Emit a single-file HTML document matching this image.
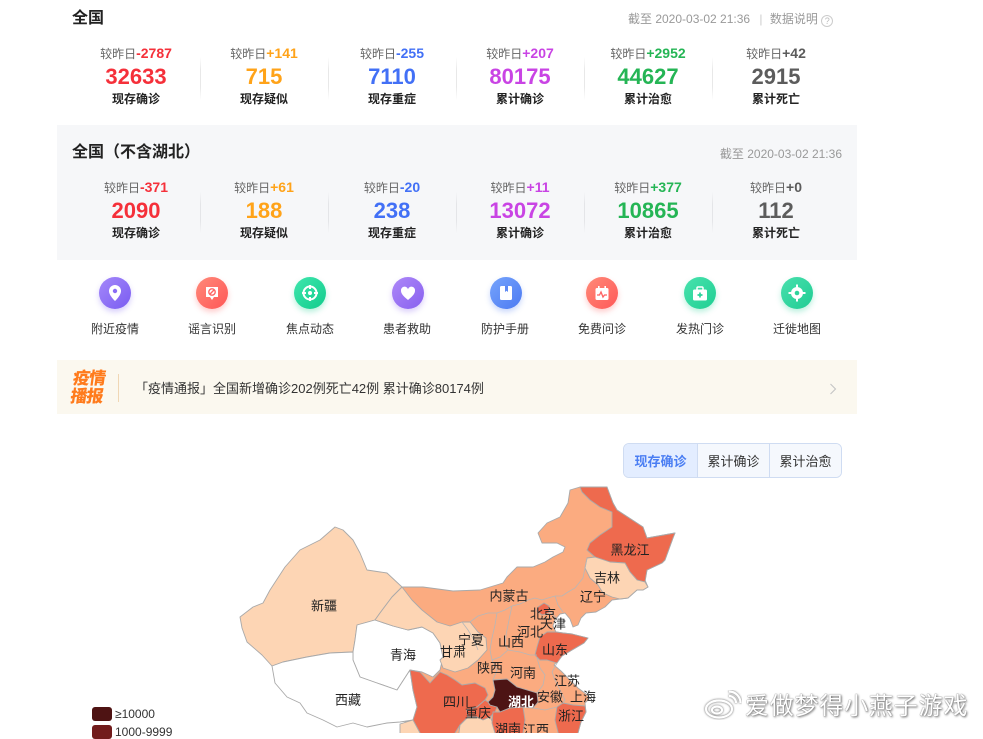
<!DOCTYPE html>
<html><head><meta charset="utf-8">
<style>
*{margin:0;padding:0;box-sizing:border-box}
body{width:983px;height:733px;overflow:hidden;background:#fff;position:relative;font-family:"Liberation Sans","Noto Sans CJK SC",sans-serif;color:#222}
.abs{position:absolute}
.title{position:absolute;left:72px;font-size:16px;font-weight:bold;color:#222;line-height:20px;white-space:nowrap}
.time{position:absolute;font-size:12px;color:#999;line-height:16px;white-space:nowrap}
.row{position:absolute;left:72px;width:768px;display:flex}
.col{width:128px;text-align:center;position:relative}
.diff{font-size:12px;color:#666;line-height:16px;height:16px;white-space:nowrap}
.diff b{font-size:14px;font-weight:bold}
.num{font-size:22px;font-weight:bold;line-height:26px;margin-top:3px;height:26px}
.lab{font-size:12px;font-weight:bold;color:#222;line-height:16px;margin-top:1px}
.sep{position:absolute;left:0;top:12px;width:1px;height:43px;background:linear-gradient(#fff,#e8e8e8 30%,#e8e8e8 70%,#fff)}
.sec2 .sep{background:linear-gradient(#f7f8fa,#e4e5e8 30%,#e4e5e8 70%,#f7f8fa)}
.c1{color:#f5303a}.c2{color:#ffa319}.c3{color:#4270f6}.c4{color:#c944e4}.c5{color:#25b555}.c6{color:#5c5c5c}
.ic{position:absolute;top:277px;width:32px;height:32px;border-radius:50%;display:flex;align-items:center;justify-content:center}
.il{position:absolute;top:321px;width:80px;text-align:center;font-size:12px;color:#333;line-height:16px}
.tab{height:100%;display:flex;align-items:center;justify-content:center;font-size:13px;color:#333}
.leg{position:absolute;left:92px;width:20px;height:14px;border-radius:3px}
.legt{position:absolute;left:115px;font-size:12px;color:#333;line-height:14px}
</style></head><body>

<!-- Section 1 -->
<div class="title" style="top:9px">全国</div>
<div class="time" style="top:11px;left:628px">截至 2020-03-02 21:36 <span style="color:#ccc;margin:0 4px 0 6px">|</span> 数据说明 <span style="display:inline-block;width:12px;height:12px;border:1px solid #ccc;border-radius:50%;font-size:9px;line-height:10px;text-align:center;color:#bbb;vertical-align:-1px">?</span></div>

<div class="row" style="top:45px">
  <div class="col"><div class="diff">较昨日<b class="c1">-2787</b></div><div class="num c1">32633</div><div class="lab">现存确诊</div></div>
  <div class="col"><div class="sep"></div><div class="diff">较昨日<b class="c2">+141</b></div><div class="num c2">715</div><div class="lab">现存疑似</div></div>
  <div class="col"><div class="sep"></div><div class="diff">较昨日<b class="c3">-255</b></div><div class="num c3">7110</div><div class="lab">现存重症</div></div>
  <div class="col"><div class="sep"></div><div class="diff">较昨日<b class="c4">+207</b></div><div class="num c4">80175</div><div class="lab">累计确诊</div></div>
  <div class="col"><div class="sep"></div><div class="diff">较昨日<b class="c5">+2952</b></div><div class="num c5">44627</div><div class="lab">累计治愈</div></div>
  <div class="col"><div class="sep"></div><div class="diff">较昨日<b class="c6">+42</b></div><div class="num c6">2915</div><div class="lab">累计死亡</div></div>
</div>

<!-- Section 2 -->
<div class="abs" style="left:57px;top:125px;width:800px;height:135px;background:#f6f7f9"></div>
<div class="title" style="top:143px">全国（不含湖北）</div>
<div class="time" style="top:146px;right:141px">截至 2020-03-02 21:36</div>
<div class="row sec2" style="top:179px">
  <div class="col"><div class="diff">较昨日<b class="c1">-371</b></div><div class="num c1">2090</div><div class="lab">现存确诊</div></div>
  <div class="col"><div class="sep"></div><div class="diff">较昨日<b class="c2">+61</b></div><div class="num c2">188</div><div class="lab">现存疑似</div></div>
  <div class="col"><div class="sep"></div><div class="diff">较昨日<b class="c3">-20</b></div><div class="num c3">238</div><div class="lab">现存重症</div></div>
  <div class="col"><div class="sep"></div><div class="diff">较昨日<b class="c4">+11</b></div><div class="num c4">13072</div><div class="lab">累计确诊</div></div>
  <div class="col"><div class="sep"></div><div class="diff">较昨日<b class="c5">+377</b></div><div class="num c5">10865</div><div class="lab">累计治愈</div></div>
  <div class="col"><div class="sep"></div><div class="diff">较昨日<b class="c6">+0</b></div><div class="num c6">112</div><div class="lab">累计死亡</div></div>
</div>

<!-- Icons -->
<div class="ic" style="left:99px;background:linear-gradient(135deg,#a488fa,#7a5cf1);box-shadow:0 3px 6px rgba(122,92,241,.3)">
 <svg width="16" height="18" viewBox="0 0 16 18"><path d="M8,1 a6,6 0 0 1 6,6 c0,4.5 -6,10 -6,10 c0,0 -6,-5.5 -6,-10 a6,6 0 0 1 6,-6z" fill="#fff"/><circle cx="8" cy="7" r="2.2" fill="#8a6cf5"/></svg></div>
<div class="il" style="left:75px">附近疫情</div>

<div class="ic" style="left:196px;background:linear-gradient(135deg,#ff8a7a,#ff5656);box-shadow:0 3px 6px rgba(255,86,86,.3)">
 <svg width="16" height="16" viewBox="0 0 16 16"><path d="M2,2 h12 v10 h-4 l-2,3 l-2,-3 h-4z" fill="#fff"/><circle cx="8" cy="7" r="3.2" fill="none" stroke="#ff6464" stroke-width="1.4"/><line x1="5.8" y1="9.2" x2="10.2" y2="4.8" stroke="#ff6464" stroke-width="1.4"/></svg></div>
<div class="il" style="left:172px">谣言识别</div>

<div class="ic" style="left:294px;background:linear-gradient(135deg,#3fe6ad,#11cc8c);box-shadow:0 3px 6px rgba(17,204,140,.3)">
 <svg width="18" height="18" viewBox="0 0 18 18"><circle cx="9" cy="9" r="6.5" fill="none" stroke="#fff" stroke-width="2"/><circle cx="9" cy="9" r="2" fill="#fff"/><path d="M9,1 v4 M9,13 v4 M1,9 h4 M13,9 h4" stroke="#fff" stroke-width="2"/></svg></div>
<div class="il" style="left:270px">焦点动态</div>

<div class="ic" style="left:392px;background:linear-gradient(135deg,#ad88f8,#8860ef);box-shadow:0 3px 6px rgba(136,96,239,.3)">
 <svg width="16" height="15" viewBox="0 0 16 15"><path d="M8,14 C3,10 1,7.5 1,4.8 A3.6,3.6 0 0 1 8,3.2 A3.6,3.6 0 0 1 15,4.8 C15,7.5 13,10 8,14z" fill="#fff"/></svg></div>
<div class="il" style="left:367px">患者救助</div>

<div class="ic" style="left:490px;background:linear-gradient(135deg,#76a4fc,#4c7af2);box-shadow:0 3px 6px rgba(76,122,242,.3)">
 <svg width="14" height="16" viewBox="0 0 14 16"><rect x="1" y="1" width="12" height="14" rx="1.5" fill="#fff"/><path d="M6,1 v6 l1.5,-1.2 l1.5,1.2 v-6" fill="#5d8af5"/></svg></div>
<div class="il" style="left:465px">防护手册</div>

<div class="ic" style="left:586px;background:linear-gradient(135deg,#ff8a78,#ff5858);box-shadow:0 3px 6px rgba(255,88,88,.3)">
 <svg width="16" height="16" viewBox="0 0 16 16"><rect x="1.5" y="3" width="13" height="12" rx="1.5" fill="#fff"/><rect x="4" y="1" width="1.6" height="4" fill="#fff"/><rect x="10.4" y="1" width="1.6" height="4" fill="#fff"/><path d="M3,10 h2.5 l1.5,-3 l2,5 l1.5,-2 h2.5" fill="none" stroke="#ff6262" stroke-width="1.3"/></svg></div>
<div class="il" style="left:562px">免费问诊</div>

<div class="ic" style="left:684px;background:linear-gradient(135deg,#48e2ad,#1fcf93);box-shadow:0 3px 6px rgba(31,207,147,.3)">
 <svg width="16" height="15" viewBox="0 0 16 15"><rect x="1" y="3.5" width="14" height="11" rx="1.5" fill="#fff"/><rect x="5" y="1" width="6" height="3.5" rx="1" fill="none" stroke="#fff" stroke-width="1.5"/><path d="M8,6.5 v5 M5.5,9 h5" stroke="#2bd39a" stroke-width="1.7"/></svg></div>
<div class="il" style="left:660px">发热门诊</div>

<div class="ic" style="left:781px;background:linear-gradient(135deg,#49e0ad,#1fcc93);box-shadow:0 3px 6px rgba(31,204,147,.3)">
 <svg width="18" height="18" viewBox="0 0 18 18"><circle cx="9" cy="9" r="6" fill="#fff"/><circle cx="9" cy="9" r="2.3" fill="#2fd39c"/><path d="M9,0.5 v3 M9,14.5 v3 M0.5,9 h3 M14.5,9 h3" stroke="#fff" stroke-width="2"/></svg></div>
<div class="il" style="left:757px">迁徙地图</div>

<!-- Banner -->
<div class="abs" style="left:57px;top:360px;width:800px;height:54px;background:#fbf8ef"></div>
<div class="abs" style="left:72px;top:368px;font-size:17px;font-weight:900;line-height:18px;color:#ff7b1c;transform:skewX(-8deg);letter-spacing:-1px;font-family:'Noto Sans CJK SC',sans-serif">疫情<br>播报</div>
<div class="abs" style="left:118px;top:374px;width:1px;height:28px;background:#f0d7b5"></div>
<div class="abs" style="left:135px;top:380px;font-size:13px;line-height:18px;color:#333;white-space:nowrap">「疫情通报」全国新增确诊202例死亡42例 累计确诊80174例</div>
<svg class="abs" style="left:829px;top:383px" width="8" height="12" viewBox="0 0 8 12"><path d="M1.5,1 L6.5,6 L1.5,11" fill="none" stroke="#c4c4c4" stroke-width="1.1"/></svg>

<!-- Tabs -->
<div class="abs" style="left:623px;top:443px;width:219px;height:35px;border:1px solid #cfdcf2;border-radius:6px;display:flex;overflow:hidden">
 <div class="tab" style="width:73px;background:#e3edff;color:#4a7ef3;font-weight:bold">现存确诊</div>
 <div class="tab" style="width:72px;background:#f5f8fd;border-left:1px solid #cfdcf2">累计确诊</div>
 <div class="tab" style="width:72px;background:#f5f8fd;border-left:1px solid #cfdcf2">累计治愈</div>
</div>

<!-- Map -->
<svg class="abs" style="left:0;top:0" width="983" height="733" viewBox="0 0 983 733">
<g stroke="#a9a9a9" stroke-width="0.9" stroke-linejoin="round">
 <path fill="#fbab80" d="M402,587 L423,587 L453,591 L480,590 L503,583 L507,577 L517,567 L533,567 L545,562 L553,557 L563,552 L565,547 L557,543 L542,543 L538,533 L547,523 L560,517 L568,503 L570,490 L580,487 L607,487 L613,503 L617,510 L643,527 L647,538 L675,533 L673,538 L665,560 L662,563 L647,570 L645,580 L648,587 L643,590 L637,590 L628,598 L620,599 L612,600 L605,607 L596,612 L586,613 L581,618 L578,625 L573,627 L570,619 L565,613 L560,614 L555,620 L553,626 L556,632 L563,633 L572,634 L580,636 L588,638 L584,643 L572,650 L562,656 L554,665 L561,671 L570,680 L578,688 L586,694 L590,698 L585,703 L586,712 L581,722 L578,733 L578,740 L405,740 L405,722 L413,720 L417,707 L413,690 L410,670 Z"/>
 <path fill="#fdd5b4" d="M240,617 L253,607 L263,603 L270,590 L285,567 L300,550 L320,540 L335,527 L343,530 L353,540 L360,553 L367,570 L387,573 L402,587 L392,597 L380,613 L375,620 L357,625 L355,640 L353,652 L330,653 L307,657 L283,662 L272,666 L262,655 L247,642 L242,628 Z"/>
 <path fill="#ffffff" d="M357,625 L375,620 L393,626 L408,630 L422,627 L433,633 L440,643 L443,657 L440,670 L433,677 L422,672 L410,670 L397,690 L377,683 L360,677 L353,660 L353,652 L355,640 Z"/>
 <path fill="#ffffff" d="M272,666 L283,662 L307,657 L330,653 L353,652 L353,660 L360,677 L377,683 L397,690 L410,670 L413,690 L417,707 L413,720 L400,722 L387,723 L367,727 L353,723 L337,727 L323,720 L307,713 L300,703 L287,697 L275,683 Z"/>
 <path fill="#fdd5b4" d="M402,587 L412,600 L422,610 L437,622 L450,626 L462,622 L470,622 L478,632 L486,638 L487,650 L478,660 L468,668 L455,672 L443,668 L440,660 L443,657 L440,643 L433,633 L422,627 L408,630 L393,626 L375,620 L380,613 L392,597 Z"/>
 <path fill="#ee6a4e" d="M410,670 L420,672 L430,683 L440,672 L447,675 L455,680 L462,685 L475,683 L485,688 L488,695 L485,700 L477,707 L467,710 L468,717 L460,725 L455,733 L455,740 L420,740 L420,733 L413,720 L417,707 L413,690 Z"/>
 <path fill="#ee6a4e" d="M485,700 L488,702 L490,705 L497,707 L495,712 L490,717 L483,720 L477,717 L468,717 L467,710 L477,707 Z"/>
 <path fill="#fdd5b4" d="M468,717 L477,717 L483,720 L490,717 L493,723 L497,740 L458,740 L460,725 Z"/>
 <path fill="#fdd5b4" d="M400,724 L413,720 L420,733 L420,740 L400,740 Z"/>
 <path fill="#4d1414" d="M493,680 L507,679 L517,687 L527,690 L537,693 L538,702 L533,708 L523,707 L510,708 L500,712 L497,707 L490,705 L488,702 L493,697 L495,690 Z"/>
 <path fill="#ee6a4e" d="M493,712 L500,712 L510,708 L523,707 L525,720 L523,733 L520,740 L497,740 L492,723 Z"/>
 <path fill="#ee6a4e" d="M557,707 L563,703 L573,705 L585,706 L586,712 L581,722 L578,733 L576,740 L560,740 L555,720 Z"/>
 <path fill="#ee6a4e" d="M580,487 L607,487 L613,503 L617,510 L643,527 L647,538 L675,533 L673,538 L665,560 L662,563 L647,570 L645,582 L637,580 L630,572 L625,563 L610,562 L595,557 L587,550 L590,543 L600,535 L612,527 L612,512 L600,507 L590,500 L582,492 Z"/>
 <path fill="#fdd5b4" d="M595,557 L610,562 L625,563 L630,572 L637,580 L645,582 L648,587 L643,590 L637,590 L628,598 L620,599 L612,597 L603,593 L598,585 L590,578 L585,568 L587,558 Z"/>
 <path fill="#ee6a4e" d="M538,607 L544,603 L549,606 L549,613 L542,615 L537,611 Z"/>
 <path fill="#ee6a4e" d="M537,647 L540,637 L547,632 L556,632 L563,633 L572,634 L580,636 L588,638 L584,643 L572,650 L562,656 L557,663 L547,660 L540,660 L535,655 Z"/>
</g>
<g fill="none" stroke="#b7b7b7" stroke-width="0.8">
 <path d="M470,622 L478,616 L488,613 L497,613 L505,610 L512,606 L520,604 L528,600 L535,598 L542,600 L548,598 L555,596 L562,596 L568,592 L575,588 L583,578 L585,568 L587,558"/>
 <path d="M555,596 L558,605 L563,612"/>
 <path d="M512,606 L510,615 L508,625 L506,635 L505,645 L508,650"/>
 <path d="M497,613 L495,625 L492,638 L490,650 L492,660"/>
 <path d="M492,660 L500,657 L508,650 L520,652 L530,655 L537,655"/>
 <path d="M492,660 L497,670 L493,680"/>
 <path d="M537,658 L540,668 L545,675 L543,685 L537,693"/>
 <path d="M557,663 L552,672 L555,680 L560,690 L565,700 L563,703"/>
 <path d="M533,708 L545,710 L557,707"/>
 <path d="M462,622 L468,630 L474,640 L478,650"/>
 <path d="M549,610 L556,618 L553,626"/>
</g>
<g font-family="Liberation Sans, Noto Sans CJK SC, sans-serif" font-size="13" fill="#222" text-anchor="middle" dominant-baseline="central">
 <text x="324" y="606">新疆</text>
 <text x="403" y="655">青海</text>
 <text x="348" y="700">西藏</text>
 <text x="453" y="652">甘肃</text>
 <text x="471" y="640">宁夏</text>
 <text x="509" y="596">内蒙古</text>
 <text x="543" y="614">北京</text>
 <text x="553" y="624">天津</text>
 <text x="530" y="632">河北</text>
 <text x="511" y="642">山西</text>
 <text x="555" y="650">山东</text>
 <text x="490" y="668">陕西</text>
 <text x="523" y="673">河南</text>
 <text x="567" y="681">江苏</text>
 <text x="550" y="697">安徽</text>
 <text x="583" y="697">上海</text>
 <text x="521" y="702" fill="#fff" font-weight="bold">湖北</text>
 <text x="456" y="702">四川</text>
 <text x="478" y="713">重庆</text>
 <text x="571" y="716">浙江</text>
 <text x="508" y="729">湖南</text>
 <text x="536" y="730">江西</text>
 <text x="630" y="550">黑龙江</text>
 <text x="607" y="578">吉林</text>
 <text x="593" y="597">辽宁</text>
</g>
</svg>

<!-- Legend -->
<div class="leg" style="top:707px;background:#4e1313"></div>
<div class="legt" style="top:707px">≥10000</div>
<div class="leg" style="top:725px;background:#721c1c"></div>
<div class="legt" style="top:725px">1000-9999</div>

<!-- Watermark -->
<svg class="abs" style="left:702px;top:690px" width="40" height="30" viewBox="0 0 40 30">
 <g fill="none" stroke="#fff" stroke-width="2.2" style="filter:drop-shadow(0 0 1px #555)">
  <ellipse cx="17" cy="19" rx="13" ry="8.5"/>
  <ellipse cx="15" cy="20" rx="5" ry="3.5"/>
  <path d="M27,6 a7,7 0 0 1 7,7"/>
  <path d="M27,1.5 a11.5,11.5 0 0 1 11.5,11.5"/>
 </g>
</svg>
<div class="abs" style="left:745px;top:689px;font-size:24px;line-height:30px;color:#fff;white-space:nowrap;letter-spacing:0.8px;text-shadow:0 0 1px #444,1px 1px 2px rgba(0,0,0,.55);font-family:'Noto Sans CJK SC',sans-serif">爱做梦得小燕子游戏</div>

</body></html>
